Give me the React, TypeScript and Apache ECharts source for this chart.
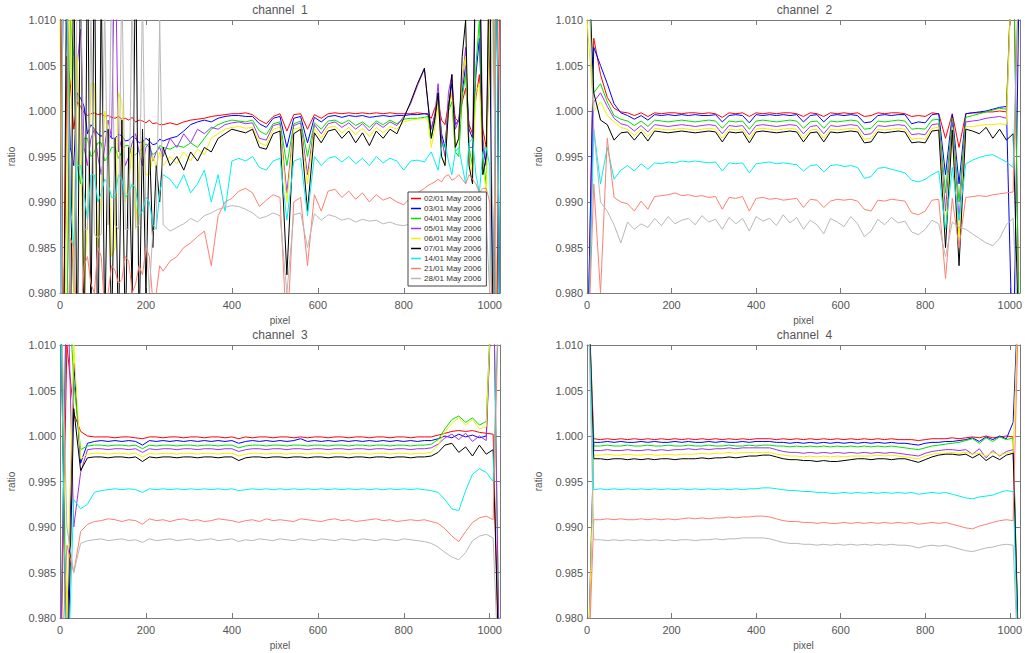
import React, { useEffect, useRef } from "react";
import * as echarts from "echarts";

// Detector pixel positions at which the ratios are sampled (channels 2-4).
const PIXELS = [
  0, 16, 32, 48, 64, 80, 96, 112, 128, 144, 160, 176, 192, 208, 224, 240,
  256, 272, 288, 304, 320, 336, 352, 368, 384, 400, 416, 432, 448, 464, 480, 496,
  512, 528, 544, 560, 576, 592, 608, 624, 640, 656, 672, 688, 704, 720, 736, 752,
  768, 784, 800, 816, 832, 848, 864, 880, 896, 912, 928, 944, 960, 976, 992, 1008,
  1024,
];

// Channel 1 is sampled more finely at both noisy ends of the detector.
const CH1_PIXELS = [
  0, 8, 16, 24, 32, 40, 48, 56, 64, 72, 80, 88, 96, 104, 112, 120, 128, 136, 144, 152,
  160, 168, 176, 184, 192, 200, 208, 216, 224, 232, 240,
  256, 272, 288, 304, 320, 336, 352, 368, 384, 400, 416, 432, 448, 464, 480, 496,
  512, 528, 544, 560, 576, 592, 608, 624, 640, 656, 672, 688, 704, 720, 736, 752,
  768, 784, 800, 816, 832, 848,
  856, 864, 872, 880, 888, 896, 904, 912, 920, 928, 936, 944, 952, 960, 968, 976,
  984, 992, 1000, 1008, 1016, 1024,
];

const DATES = [
  "02/01 May 2006", "03/01 May 2006", "04/01 May 2006", "05/01 May 2006", "06/01 May 2006",
  "07/01 May 2006", "14/01 May 2006", "21/01 May 2006", "28/01 May 2006",
];

const CHANNELS = ["channel\u00a0\u00a01", "channel\u00a0\u00a02", "channel\u00a0\u00a03", "channel\u00a0\u00a04"];

const X_TICKS = [0, 200, 400, 600, 800, 1000];
const Y_TICKS = [0.98, 0.985, 0.99, 0.995, 1.0, 1.005, 1.01];

// Ratio deviations from 1, in units of 1e-4 (values past +100 / -200 run off the plot).
// ---- channel 1 (on CH1_PIXELS)
const ch1_0201 = [200, -300, 60, 30, -20, 10, 5, -2, -5, -3, -2, -4, -3, -6, -5, -7, -8, -6, -9, -8,
  -10, -7, -12, -10, -11, -13, -10, -14, -13, -15, -15,
  -13, -15, -12, -10, -9, -8, -6, -5, -4, -3, -3, -2, -4, -10, -14, -6,
  -3, -22, -4, -3, -20, -4, -8, -3, -2, -3, -2, -3, -2, -3, -2, -3,
  -2, -3, -3, -3, -2, -3,
  -4, -8, 3, 10, -10, -15, 8, 20, -8, -12, 10, 25, -15, -25, 15, 40, -20, -40, 60, 200, -300, 200];
const ch1_0301 = [-300, 200, 80, -40, -60, 20, 14, 5, -25, -15, -20, -25, -28, -22, -24, -30, -30, -26, -27, -33,
  -32, -28, -30, -35, -34, -30, -33, -37, -36, -31, -33,
  -30, -28, -22, -15, -12, -10, -12, -8, -6, -5, -5, -6, -6, -14, -18, -8,
  -6, -40, -8, -6, -35, -7, -12, -6, -5, -7, -5, -6, -5, -7, -6, -5,
  -6, -5, -5, -4, -4, -3,
  -3, -20, -5, 10, -25, -40, 5, 30, -15, -10, 20, 50, -20, -30, 40, 80, -40, -60, 100, -300, 200, -300];
const ch1_0401 = [200, -300, -250, 100, 60, -60, -80, -30, -30, -50, -45, -35, -35, -55, -50, -40, -40, -52, -45, -38,
  -38, -50, -48, -44, -42, -36, -40, -48, -45, -38, -40,
  -42, -38, -40, -35, -40, -30, -20, -15, -12, -10, -11, -12, -10, -22, -26, -14,
  -12, -60, -14, -11, -50, -13, -20, -11, -10, -14, -10, -16, -12, -18, -11, -15,
  -10, -14, -9, -8, -8, -7,
  -6, -30, -10, 20, -35, -40, 0, 10, -45, -50, 15, 40, -40, -60, 50, 100, -50, -80, 120, 200, -300, -300];
const ch1_0501 = [-300, 200, 150, -100, -200, 50, 90, -40, -60, -30, -20, -50, -70, -40, -10, -30, 200, -45, -30, -60,
  -50, -35, -25, -45, -60, -40, -35, -55, -45, -40, -50,
  -30, -40, -25, -35, -20, -25, -18, -20, -15, -13, -12, -14, -13, -30, -32, -16,
  -14, -90, -16, -13, -70, -15, -25, -14, -12, -18, -13, -20, -14, -22, -13, -18,
  -12, -16, -6, 8, 28, 46,
  10, -20, -5, 30, -30, -50, 20, 40, -20, -10, 30, 70, -40, -40, 200, 200, -30, -60, 200, 200, 200, 200];
const ch1_0601 = [100, -300, -100, 200, -250, 60, -40, -200, -120, 30, 30, -150, -90, 0, -20, -160, -150, 20, 10, -100,
  -80, -40, -130, -60, -30, -70, -70, -50, -60, -45, -60,
  -50, -58, -45, -55, -42, -48, -30, -25, -20, -18, -17, -19, -18, -35, -38, -20,
  -18, -100, -20, -18, -80, -19, -30, -18, -17, -24, -18, -26, -19, -28, -18, -24,
  -17, -20, -12, -10, -9, -8,
  -10, -40, -20, 10, -50, -60, 0, 20, -40, -30, 40, 60, -50, -70, 20, 30, -60, -90, 100, 200, 200, 200];
const ch1_0701 = [200, -300, 200, -300, 200, -300, 200, -300, 200, -250, 200, -300, 150, -250, -20, -250, -30, -250, -10, -250,
  -40, -200, 200, -250, -20, -200, -30, -150, -60, -100, -40,
  -60, -50, -65, -45, -55, -40, -45, -30, -25, -20, -22, -24, -20, -40, -42, -25,
  -22, -180, -25, -20, -110, -24, -35, -22, -20, -30, -22, -35, -24, -38, -22, -30,
  -20, -25, -8, 10, 30, 47,
  10, -30, -10, 20, -50, -60, 0, 40, -40, -30, 60, 100, -60, -80, 200, 200, -70, -50, 200, -300, 200, -300];
const ch1_1401 = [-300, 200, 100, -100, -150, -60, -60, -90, -120, -70, -70, -100, -90, -75, -80, -95, -95, -70, -75, -95,
  -90, -80, -85, -115, -110, -95, -100, -125, -130, -90, -70,
  -75, -85, -70, -90, -80, -65, -100, -70, -110, -55, -52, -55, -50, -62, -65, -55,
  -52, -120, -55, -52, -115, -50, -60, -52, -50, -56, -50, -58, -52, -60, -50, -57,
  -52, -55, -65, -55, -54, -56,
  -50, -45, -55, -65, -40, -35, -55, -70, -45, -40, -60, -80, -35, -30, -70, -90, -45, -40, -60, -300, 200, -300];
const ch1_2101 = [200, -300, -300, -140, -150, -250, -230, -170, -160, -190, -200, -150, -160, -220, -200, -170, -175, -190, -185, -160,
  -165, -200, -190, -170, -180, -150, -160, -210, -200, -170, -176,
  -165, -160, -150, -145, -138, -132, -170, -115, -100, -96, -88, -85, -90, -105, -98, -92,
  -95, -250, -100, -95, -170, -92, -110, -88, -86, -95, -88, -97, -90, -100, -92, -98,
  -95, -100, -103, -95, -90, -85,
  -82, -80, -78, -75, -78, -72, -70, -76, -74, -70, -75, -80, -70, -75, -80, -90, -85, -85, -100, -300, 200, 200];
const ch1_2801 = [-300, 200, 200, -250, -250, 150, 150, -130, -130, 100, -135, -140, -135, 120, -125, 150, -125, -130, 150, -130,
  -130, 140, -128, -125, 130, -132, -200, -132, -128, 100, -125,
  -132, -128, -124, -118, -122, -115, -112, -108, -106, -104, -105, -108, -112, -118, -116, -112,
  -115, -200, -114, -112, -150, -113, -120, -114, -116, -120, -118, -122, -119, -121, -120, -124,
  -122, -125, -126, -124, -122, -120,
  -120, -118, -122, -125, -120, -120, -124, -128, -120, -118, -122, -125, -120, -122, -126, -130, -125, -120, -200, 200, -300, -300];

// ---- channel 2
const ch2_0201 = [-300, 80, 40, 15, 3, -1, -2, -5, -2, -6, -2, -3, -2, -2, -3, -2,
  -2, -3, -2, -3, -7, -2, -3, -2, -6, -2, -3, -2, -3, -2, -2, -3,
  -6, -2, -3, -6, -2, -3, -2, -3, -2, -6, -5, -2, -3, -2, -2, -3,
  -6, -5, -6, -2, -3, -30, -3, -40, -3, -2, -2, -1, -1, 0, -1, 200, -300];
const ch2_0301 = [-300, 70, 50, 30, 8, -2, -5, -9, -5, -10, -4, -5, -4, -5, -4, -5,
  -4, -5, -5, -4, -12, -5, -4, -5, -13, -4, -5, -4, -5, -4, -5, -4,
  -12, -5, -4, -12, -5, -4, -5, -4, -5, -13, -12, -5, -4, -5, -4, -4,
  -14, -12, -13, -4, -3, -70, -4, -80, -3, -2, -1, 0, 2, 4, 5, -300, 200];
const ch2_0401 = [200, 20, 30, 10, -5, -9, -11, -16, -11, -17, -10, -11, -12, -11, -10, -11,
  -12, -11, -10, -11, -19, -11, -12, -11, -20, -11, -10, -11, -12, -11, -10, -11,
  -19, -12, -11, -19, -11, -12, -11, -10, -11, -20, -19, -11, -12, -11, -10, -11,
  -20, -19, -20, -10, -9, -90, -8, -100, -7, -5, -3, -1, 1, 3, 2, 200, -300];
const ch2_0501 = [-300, 10, 20, 5, -8, -14, -16, -22, -16, -23, -15, -16, -17, -16, -15, -16,
  -17, -16, -15, -16, -25, -16, -17, -16, -26, -16, -15, -16, -17, -16, -15, -16,
  -25, -17, -16, -25, -16, -17, -16, -15, -16, -26, -25, -16, -17, -16, -15, -16,
  -26, -25, -26, -15, -14, -110, -13, -120, -12, -11, -10, -8, -7, -6, -8, 200, 200];
const ch2_0601 = [100, 0, 10, -5, -12, -18, -20, -27, -20, -28, -19, -20, -21, -20, -19, -20,
  -21, -20, -19, -20, -30, -20, -21, -20, -31, -20, -19, -20, -21, -20, -19, -20,
  -30, -21, -20, -30, -20, -21, -20, -19, -20, -31, -30, -20, -21, -20, -19, -20,
  -31, -30, -31, -19, -18, -130, -18, -140, -17, -17, -16, -15, -15, -14, -15, 200, 200];
const ch2_0701 = [200, 20, -10, -15, -32, -24, -23, -32, -23, -33, -22, -23, -24, -23, -22, -23,
  -24, -23, -22, -23, -34, -23, -24, -23, -35, -23, -22, -23, -24, -23, -22, -23,
  -34, -24, -23, -34, -23, -24, -23, -22, -23, -35, -34, -23, -24, -23, -22, -23,
  -35, -34, -35, -22, -21, -150, -21, -170, -20, -22, -25, -18, -30, -20, -32, -25, -300];
const ch2_1401 = [-300, -20, -80, -40, -75, -65, -60, -66, -58, -64, -57, -58, -56, -57, -55, -56,
  -55, -56, -57, -56, -66, -57, -58, -57, -68, -58, -57, -56, -58, -57, -58, -59,
  -66, -60, -59, -67, -60, -59, -61, -60, -62, -74, -72, -63, -62, -64, -66, -68,
  -76, -78, -75, -70, -66, -130, -62, -120, -58, -54, -51, -49, -48, -52, -56, -62, 200];
const ch2_2101 = [-300, -80, -200, -30, -95, -100, -102, -110, -99, -108, -94, -93, -92, -90, -93, -92,
  -94, -93, -95, -94, -108, -95, -96, -94, -110, -96, -95, -97, -96, -98, -97, -96,
  -106, -97, -98, -106, -99, -97, -98, -97, -99, -108, -110, -98, -99, -97, -98, -99,
  -112, -114, -110, -98, -97, -184, -96, -150, -95, -94, -93, -94, -92, -91, -90, -89, 200];
const ch2_2801 = [200, -20, -100, -110, -125, -145, -122, -130, -124, -128, -118, -126, -116, -124, -120, -118,
  -125, -115, -122, -119, -130, -117, -124, -118, -132, -116, -121, -118, -126, -114, -123, -117,
  -130, -120, -125, -135, -118, -122, -127, -116, -124, -138, -132, -119, -125, -117, -123, -121,
  -133, -136, -130, -120, -124, -160, -122, -128, -130, -135, -140, -145, -148, -140, -125, -118, -300];

// ---- channel 3
const ch3_0201 = [-300, 100, 25, 5, 0, -1, -1, -1, -2, -1, -1, -2, -3, -1, -1, -2,
  -1, -1, -2, -1, -1, -2, -1, -1, -2, -1, -3, -1, -2, -1, -1, -2,
  -1, -1, -2, -1, -2, -1, -1, -2, -1, -1, -2, -1, -1, -2, -1, -1,
  -2, -1, -1, -2, -1, -1, -1, 1, 3, 5, 6, 5, 6, 4, 3, 2, -300];
const ch3_0301 = [200, -250, 80, -30, -8, -6, -5, -6, -5, -6, -5, -6, -10, -5, -6, -5,
  -6, -5, -6, -5, -6, -5, -6, -5, -6, -5, -8, -6, -5, -6, -5, -6,
  -5, -6, -5, -3, -6, -5, -6, -5, -6, -5, -6, -5, -6, -5, -6, -5,
  -6, -5, -6, -5, -6, -5, -5, -3, 0, -2, 2, -1, 1, -2, 0, 200, 200];
const ch3_0401 = [-300, 200, 60, -15, -11, -10, -10, -11, -10, -10, -11, -10, -14, -10, -11, -10,
  -10, -11, -10, -10, -11, -10, -10, -11, -10, -10, -13, -11, -10, -10, -11, -10,
  -10, -11, -10, -10, -11, -10, -10, -11, -10, -10, -11, -10, -10, -11, -10, -10,
  -11, -10, -10, -11, -10, -10, -9, -4, 8, 18, 22, 15, 20, 12, 16, 200, -300];
const ch3_0501 = [-300, 200, -100, -40, -15, -14, -14, -15, -14, -14, -15, -14, -18, -14, -15, -14,
  -14, -15, -14, -14, -15, -14, -14, -15, -14, -14, -17, -15, -14, -14, -15, -14,
  -14, -15, -14, -14, -15, -14, -14, -15, -14, -14, -15, -14, -14, -15, -14, -14,
  -15, -14, -14, -15, -14, -14, -13, -9, -2, 2, -4, 3, -6, 0, -5, 200, -300];
const ch3_0601 = [200, -200, 100, -25, -20, -19, -19, -20, -19, -19, -20, -19, -23, -19, -20, -19,
  -19, -20, -19, -19, -20, -19, -19, -20, -19, -19, -22, -20, -19, -19, -20, -19,
  -19, -20, -19, -19, -20, -19, -19, -20, -19, -19, -20, -19, -19, -20, -19, -19,
  -20, -19, -19, -20, -19, -19, -18, -10, 5, 14, 20, 12, 18, 8, 10, 200, 200];
const ch3_0701 = [200, -300, 30, -38, -24, -23, -23, -24, -23, -23, -24, -23, -28, -23, -24, -23,
  -23, -24, -23, -23, -24, -23, -23, -24, -23, -23, -27, -24, -23, -23, -24, -23,
  -23, -24, -23, -23, -24, -23, -23, -24, -23, -23, -24, -23, -23, -24, -23, -23,
  -24, -23, -23, -24, -23, -23, -22, -18, -10, -8, -18, -12, -22, -10, -20, -15, -300];
const ch3_1401 = [200, -300, -70, -80, -75, -62, -60, -59, -58, -59, -58, -59, -62, -58, -59, -58,
  -59, -58, -59, -58, -59, -58, -59, -58, -59, -58, -60, -59, -58, -59, -58, -59,
  -58, -59, -58, -59, -58, -59, -58, -59, -58, -59, -58, -59, -58, -59, -58, -59,
  -58, -59, -58, -59, -58, -59, -60, -62, -70, -80, -82, -60, -42, -36, -40, -50, 200];
const ch3_2101 = [-300, -120, -150, -105, -97, -94, -93, -91, -92, -94, -92, -93, -97, -91, -93, -92,
  -94, -92, -91, -93, -92, -94, -93, -91, -92, -93, -95, -93, -92, -94, -91, -93,
  -92, -93, -94, -91, -92, -93, -94, -92, -91, -93, -92, -94, -93, -92, -91, -93,
  -92, -94, -93, -92, -93, -92, -94, -96, -102, -110, -116, -105, -95, -90, -88, -92, 200];
const ch3_2801 = [200, -100, -150, -118, -115, -114, -113, -115, -114, -113, -115, -114, -117, -113, -115, -114,
  -113, -115, -114, -113, -115, -114, -113, -115, -114, -113, -116, -114, -115, -113, -114, -115,
  -113, -114, -115, -113, -114, -115, -113, -114, -115, -113, -114, -115, -113, -114, -115, -113,
  -114, -115, -113, -114, -115, -116, -118, -122, -128, -133, -136, -128, -115, -110, -108, -112, -300];

// ---- channel 4
const ch4_0201 = [200, -3, -4, -3, -4, -3, -4, -3, -4, -3, -4, -3, -4, -3, -4, -3,
  -4, -3, -4, -3, -4, -3, -4, -3, -4, -3, -3, -3, -4, -3, -4, -3,
  -4, -3, -4, -3, -4, -3, -4, -3, -4, -3, -4, -3, -4, -3, -4, -4,
  -4, -5, -4, -3, -3, -3, -2, -3, -2, -1, -2, 0, -2, -1, 0, -1, -300];
const ch4_0301 = [-300, -7, -7, -6, -7, -6, -7, -7, -6, -7, -6, -7, -7, -6, -7, -6,
  -7, -7, -6, -7, -6, -7, -7, -6, -7, -6, -6, -6, -7, -7, -8, -7,
  -8, -7, -8, -7, -8, -7, -8, -7, -8, -7, -8, -7, -8, -7, -8, -8,
  -9, -10, -8, -7, -7, -6, -6, -5, -4, -2, -6, -1, -4, 0, -3, 15, 200];
const ch4_0401 = [200, -11, -11, -10, -11, -11, -10, -11, -11, -10, -11, -11, -10, -11, -11, -10,
  -11, -11, -10, -11, -11, -10, -11, -11, -10, -11, -10, -10, -11, -11, -12, -11,
  -12, -11, -12, -11, -12, -11, -12, -11, -12, -11, -12, -11, -12, -11, -12, -13,
  -14, -15, -13, -11, -10, -9, -8, -7, -5, -3, -8, -2, -6, -1, -4, -2, -300];
const ch4_0501 = [200, -16, -16, -15, -16, -16, -15, -16, -16, -15, -16, -15, -16, -15, -15, -14,
  -15, -14, -15, -14, -14, -13, -14, -13, -13, -13, -13, -13, -15, -17, -18, -18,
  -19, -18, -19, -18, -19, -18, -19, -18, -19, -18, -19, -18, -19, -18, -19, -20,
  -21, -22, -19, -17, -16, -15, -15, -16, -15, -20, -14, -24, -16, -22, -17, -15, -300];
const ch4_0601 = [-300, -21, -21, -20, -21, -21, -20, -21, -21, -20, -21, -21, -20, -21, -20, -20,
  -20, -19, -20, -19, -19, -18, -19, -18, -18, -18, -18, -18, -20, -21, -22, -22,
  -23, -22, -23, -22, -23, -22, -23, -22, -22, -22, -22, -21, -22, -21, -22, -23,
  -24, -25, -22, -20, -19, -19, -18, -19, -18, -20, -19, -22, -18, -21, -19, -18, 200];
const ch4_0701 = [200, -25, -25, -26, -25, -25, -26, -25, -26, -25, -26, -25, -25, -26, -25, -25,
  -25, -24, -25, -24, -24, -23, -24, -23, -22, -22, -21, -21, -23, -25, -26, -26,
  -27, -27, -28, -27, -28, -28, -27, -26, -25, -25, -26, -25, -25, -26, -25, -25,
  -27, -29, -26, -23, -21, -20, -20, -21, -20, -24, -20, -27, -22, -26, -21, -19, -300];
const ch4_1401 = [200, -59, -58, -59, -58, -59, -58, -59, -58, -59, -58, -59, -58, -59, -58, -59,
  -58, -59, -58, -59, -58, -59, -58, -59, -58, -58, -57, -57, -58, -59, -60, -60,
  -61, -61, -62, -62, -63, -63, -62, -63, -62, -63, -62, -63, -62, -63, -62, -63,
  -62, -64, -63, -62, -63, -62, -64, -66, -68, -69, -67, -66, -65, -62, -60, -61, -300];
const ch4_2101 = [-300, -92, -92, -91, -92, -91, -92, -92, -91, -92, -91, -92, -91, -92, -91, -90,
  -91, -90, -91, -90, -90, -89, -90, -89, -89, -88, -88, -89, -91, -93, -94, -94,
  -95, -95, -96, -95, -96, -96, -95, -96, -95, -96, -95, -96, -95, -96, -95, -96,
  -95, -97, -96, -95, -96, -95, -97, -99, -101, -102, -99, -97, -95, -93, -92, -93, 200];
const ch4_2801 = [200, -114, -114, -115, -114, -115, -114, -115, -114, -115, -114, -115, -114, -115, -114, -114,
  -115, -114, -114, -113, -114, -113, -113, -112, -112, -112, -112, -113, -115, -117, -118, -118,
  -119, -119, -120, -119, -120, -119, -120, -119, -120, -119, -120, -119, -120, -119, -120, -120,
  -121, -123, -121, -120, -121, -120, -122, -124, -126, -127, -125, -123, -122, -120, -119, -120, -300];

const CHANNEL_PIXELS = [CH1_PIXELS, PIXELS, PIXELS, PIXELS];
const CHANNEL_DATA = [
  [ch1_0201, ch1_0301, ch1_0401, ch1_0501, ch1_0601, ch1_0701, ch1_1401, ch1_2101, ch1_2801],
  [ch2_0201, ch2_0301, ch2_0401, ch2_0501, ch2_0601, ch2_0701, ch2_1401, ch2_2101, ch2_2801],
  [ch3_0201, ch3_0301, ch3_0401, ch3_0501, ch3_0601, ch3_0701, ch3_1401, ch3_2101, ch3_2801],
  [ch4_0201, ch4_0301, ch4_0401, ch4_0501, ch4_0601, ch4_0701, ch4_1401, ch4_2101, ch4_2801],
];

const LINE_COLORS = ["#ff0000", "#0000ff", "#00e000", "#a030f0", "#f0f000", "#000000", "#00f0f0", "#ff7f70", "#b8b8b8"];

const GRIDS = [
  { left: 60, top: 20, width: 440, height: 273 },
  { left: 587, top: 20, width: 435, height: 273 },
  { left: 60, top: 345, width: 440, height: 273 },
  { left: 587, top: 345, width: 435, height: 273 },
];

const FONT = "'Liberation Sans', Arial, Helvetica, sans-serif";
const AXIS_COLOR = "#7a7a7a";
const TEXT_COLOR = "#555555";

function buildOption() {
  const xAxis: any[] = [];
  const yAxis: any[] = [];
  const series: any[] = [];
  const graphic: any[] = [];

  GRIDS.forEach((g, c) => {
    const lineStyle = { color: AXIS_COLOR, width: 1 };
    const tick = { show: true, inside: true, length: 5, lineStyle };
    const pixels = CHANNEL_PIXELS[c];
    const xMax = pixels[pixels.length - 1];
    xAxis.push({
      type: "value", gridIndex: c, position: "bottom", min: X_TICKS[0], max: xMax, interval: 200,
      name: "pixel", nameLocation: "middle", nameGap: 22,
      nameTextStyle: { fontSize: 10, color: TEXT_COLOR, fontFamily: FONT },
      axisLine: { show: true, onZero: false, lineStyle }, axisTick: tick,
      axisLabel: {
        fontSize: 11, color: TEXT_COLOR, fontFamily: FONT, margin: 6,
        formatter: (v: number) => (X_TICKS.includes(v) ? String(v) : ""),
      },
      splitLine: { show: false },
    });
    xAxis.push({
      type: "value", gridIndex: c, position: "top", min: X_TICKS[0], max: xMax, interval: 200,
      axisLine: { show: true, onZero: false, lineStyle }, axisTick: tick,
      axisLabel: { show: false }, splitLine: { show: false },
    });
    yAxis.push({
      type: "value", gridIndex: c, position: "left", min: Y_TICKS[0], max: Y_TICKS[Y_TICKS.length - 1], interval: 0.005,
      name: "ratio", nameLocation: "middle", nameGap: 44, nameRotate: 90,
      nameTextStyle: { fontSize: 10, color: TEXT_COLOR, fontFamily: FONT },
      axisLine: { show: true, onZero: false, lineStyle }, axisTick: tick,
      axisLabel: { fontSize: 11, color: TEXT_COLOR, fontFamily: FONT, margin: 4, formatter: (v: number) => v.toFixed(3) },
      splitLine: { show: false },
    });
    yAxis.push({
      type: "value", gridIndex: c, position: "right", min: Y_TICKS[0], max: Y_TICKS[Y_TICKS.length - 1], interval: 0.005,
      axisLine: { show: true, onZero: false, lineStyle }, axisTick: tick,
      axisLabel: { show: false }, splitLine: { show: false },
    });

    CHANNEL_DATA[c].forEach((vals, s) => {
      series.push({
        type: "line", name: DATES[s], xAxisIndex: c * 2, yAxisIndex: c * 2,
        data: pixels.map((p, i) => [p, 1 + vals[i] / 10000]),
        symbol: "none", showSymbol: false, silent: true, clip: true,
        lineStyle: { width: 1, color: LINE_COLORS[s] },
        itemStyle: { color: LINE_COLORS[s] },
        emphasis: { disabled: true },
      });
    });

    graphic.push({
      type: "text", x: g.left + g.width / 2, y: g.top - 10,
      style: { text: CHANNELS[c], textAlign: "center", textVerticalAlign: "middle", font: `12px ${FONT}`, fill: TEXT_COLOR },
    });
  });

  return {
    animation: false,
    backgroundColor: "#ffffff",
    grid: GRIDS.map((g) => ({ ...g, containLabel: false })),
    xAxis, yAxis, series, graphic,
    legend: {
      show: true, data: DATES, orient: "vertical", left: 408, top: 192,
      backgroundColor: "#ffffff", borderColor: "#444444", borderWidth: 1,
      padding: [2, 5, 3, 3], itemGap: 1, itemWidth: 10, itemHeight: 1.5, icon: "rect",
      selectedMode: false,
      textStyle: { fontSize: 8, color: "#333333", fontFamily: FONT, lineHeight: 9, padding: [0, 0, 0, -2] },
    },
  };
}

export default function App() {
  const ref = useRef<HTMLDivElement>(null);
  useEffect(() => {
    if (!ref.current) return;
    const chart = echarts.init(ref.current, undefined, { renderer: "svg" });
    chart.setOption(buildOption() as any);
    return () => chart.dispose();
  }, []);
  return <div ref={ref} style={{ position: "fixed", left: 0, top: 0, width: 1025, height: 653 }} />;
}
